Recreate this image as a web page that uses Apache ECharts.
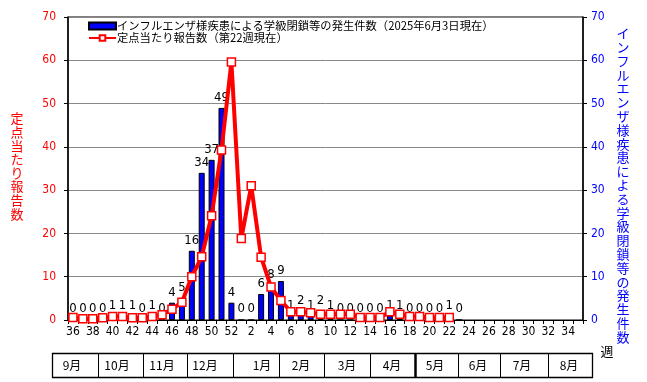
<!DOCTYPE html>
<html>
<head>
<meta charset="utf-8">
<script src="https://cdn.jsdelivr.net/npm/echarts@6/dist/echarts.min.js"></script>
<style>html,body{margin:0;padding:0;background:#fff;}#c{width:647px;height:382px;}</style>
</head>
<body>
<div id="c"></div>
<script>
// ---- data ----
const weeks = ['36','37','38','39','40','41','42','43','44','45','46','47','48','49','50','51','52',
  '1','2','3','4','5','6','7','8','9','10','11','12','13','14','15','16','17','18','19','20',
  '21','22','23','24','25','26','27','28','29','30','31','32','33','34','35'];
// 学級閉鎖等の発生件数 (right axis)
const closures = [0,0,0,0,1,1,1,0,1,0,4,5,16,34,37,49,4,
  0,0,6,8,9,1,2,1,2,1,0,0,0,0,0,1,1,0,0,0,
  0,1,0,null,null,null,null,null,null,null,null,null,null,null,null];
// 定点当たり報告数 (left axis)
const perSentinel = [0.6,0.3,0.3,0.5,0.8,0.8,0.5,0.5,0.8,1.2,2.5,4.1,10.0,14.6,24.1,39.3,59.6,
  18.8,31.0,14.5,7.6,4.5,1.9,1.9,1.7,1.3,1.3,1.3,1.3,0.6,0.6,0.6,1.9,1.3,0.8,0.8,0.6,
  0.6,0.6,null,null,null,null,null,null,null,null,null,null,null,null,null];
const months = ['9月','10月','11月','12月','1月','2月','3月','4月','5月','6月','7月','8月'];
const barName = 'インフルエンザ様疾患による学級閉鎖等の発生件数（2025年6月3日現在）';
const lineName = '定点当たり報告数（第22週現在）';
const leftAxisName = '定点当たり報告数';
const rightAxisName = 'インフルエンザ様疾患による学級閉鎖等の発生件数';
const weekUnit = '週';

// ---- layout ----
const NARROW = '"Liberation Sans Narrow","DejaVu Sans Condensed","Noto Sans CJK JP",sans-serif';
const CJK = '"Noto Sans CJK JP",sans-serif';
const tableX = [52,98,143,187,233,279,324,370,415,458,500,548,592];
const monthX = [72,117,162,205,262,301,347,392,435,478,522,569];
const tableTop = 353, tableBottom = 377;

const graphics = [];
graphics.push({type:'rect', shape:{x:tableX[0]+0.5,y:tableTop+0.5,width:tableX[tableX.length-1]-tableX[0],height:tableBottom-tableTop},
  style:{fill:null, stroke:'#000', lineWidth:1.3}});
for (let i=1;i<tableX.length-1;i++){
  graphics.push({type:'line', shape:{x1:tableX[i]+0.5,y1:tableTop,x2:tableX[i]+0.5,y2:tableBottom},
    style:{stroke:'#000', lineWidth:(i===8?2.5:1)}});
}
months.forEach((m,i)=>{
  graphics.push({type:'text', x:monthX[i], y:(tableTop+tableBottom)/2,
    style:{text:m, fill:'#000', font:'12px '+CJK, textAlign:'center', textVerticalAlign:'middle'}});
});
graphics.push({type:'text', x:607, y:351, style:{text:weekUnit, fill:'#000', font:'13px '+CJK, textAlign:'center', textVerticalAlign:'middle'}});
graphics.push({type:'text', x:17, y:166, style:{text:leftAxisName.split('').join('\n'), fill:'#ff0000', font:'13px '+CJK, lineHeight:13.6, textAlign:'center', textVerticalAlign:'middle'}});
graphics.push({type:'text', x:623, y:185, style:{text:rightAxisName.split('').join('\n'), fill:'#0000ff', font:'13px '+CJK, lineHeight:13.8, textAlign:'center', textVerticalAlign:'middle'}});

const chart = echarts.init(document.getElementById('c'), null, {renderer:'canvas'});
chart.setOption({
  animation:false,
  backgroundColor:'#fff',
  grid:{left:68, right:64, top:17, bottom:62, show:true, borderColor:'#000', borderWidth:1, backgroundColor:'transparent'},
  legend:{
    orient:'vertical', left:88, top:20, padding:0, itemWidth:27, itemHeight:7, itemGap:0,
    textStyle:{fontSize:11.3, color:'#000', fontFamily:CJK, lineHeight:12, padding:[0,0,0,-4]},
    data:[{name:barName, icon:'rect'},{name:lineName}]
  },
  xAxis:{
    type:'category', data:weeks, boundaryGap:true,
    axisLine:{lineStyle:{color:'#000', width:1}},
    axisTick:{show:true, interval:0, length:4, lineStyle:{color:'#000'}},
    axisLabel:{interval:1, color:'#000', fontSize:12, fontFamily:NARROW, margin:6}
  },
  yAxis:[
    {type:'value', min:0, max:70, interval:10, position:'left',
     axisLine:{show:true, lineStyle:{color:'#000', width:1.5}},
     axisTick:{show:true, length:4, lineStyle:{color:'#000'}},
     axisLabel:{color:'#ff0000', fontSize:12, fontFamily:NARROW, margin:12},
     splitLine:{show:true, lineStyle:{color:'#888', width:1}}},
    {type:'value', min:0, max:70, interval:10, position:'right',
     axisLine:{show:true, lineStyle:{color:'#000', width:1.5}},
     axisTick:{show:true, length:4, lineStyle:{color:'#000'}},
     axisLabel:{color:'#0000ff', fontSize:12, fontFamily:NARROW, margin:8},
     splitLine:{show:false}}
  ],
  series:[
    {name:barName, type:'bar', yAxisIndex:1, data:closures, barWidth:6,
     itemStyle:{color:'#0000ff', borderColor:'#000', borderWidth:1},
     label:{show:true, position:'top', distance:4, color:'#000', fontSize:13, fontFamily:NARROW},
     z:2},
    {name:lineName, type:'line', yAxisIndex:0, data:perSentinel,
     symbol:'rect', symbolSize:8, showAllSymbol:true,
     lineStyle:{color:'#ff0000', width:4},
     itemStyle:{color:'#fff', borderColor:'#ff0000', borderWidth:1.5},
     z:3}
  ],
  graphic:graphics
});
</script>
</body>
</html>
